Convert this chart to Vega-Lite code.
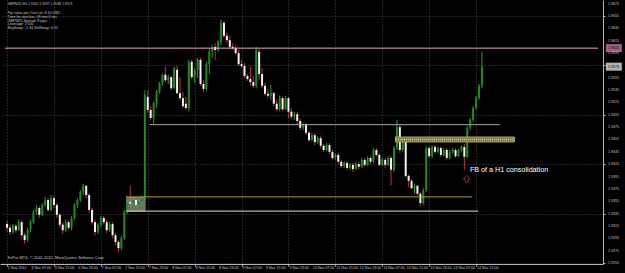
{
"$schema": "https://vega.github.io/schema/vega-lite/v6.json",
"width": 603, "height": 264,
"autosize": "none",
"padding": {"left": 0, "top": 0, "right": 22, "bottom": 9},
"background": "#000000",
"config": {"view": {"stroke": null}, "font": "Liberation Sans",
 "axis": {"title": null, "labels": false, "tickColor": "#b4b4b4", "domainColor": "#b4b4b4",
  "grid": true, "gridColor": "#474747", "gridDash": [1,2], "tickSize": 2}},
"datasets": {
"candles": [
{"t":0,"o":1.9318,"h":1.9323,"l":1.9305,"c":1.9312},
{"t":1,"o":1.9312,"h":1.9317,"l":1.9300,"c":1.9305},
{"t":2,"o":1.9305,"h":1.9318,"l":1.9302,"c":1.9315},
{"t":3,"o":1.9315,"h":1.9318,"l":1.9304,"c":1.9308},
{"t":4,"o":1.9308,"h":1.9326,"l":1.9307,"c":1.9321},
{"t":5,"o":1.9321,"h":1.9325,"l":1.9295,"c":1.9300},
{"t":6,"o":1.9300,"h":1.9304,"l":1.9286,"c":1.9292},
{"t":7,"o":1.9292,"h":1.9312,"l":1.9289,"c":1.9308},
{"t":8,"o":1.9308,"h":1.9325,"l":1.9305,"c":1.9321},
{"t":9,"o":1.9321,"h":1.9341,"l":1.9318,"c":1.9338},
{"t":10,"o":1.9338,"h":1.9349,"l":1.9334,"c":1.9344},
{"t":11,"o":1.9344,"h":1.9347,"l":1.9328,"c":1.9333},
{"t":12,"o":1.9333,"h":1.9352,"l":1.9331,"c":1.9349},
{"t":13,"o":1.9349,"h":1.9362,"l":1.9346,"c":1.9357},
{"t":14,"o":1.9357,"h":1.9360,"l":1.9338,"c":1.9341},
{"t":15,"o":1.9341,"h":1.9365,"l":1.9339,"c":1.9360},
{"t":16,"o":1.9360,"h":1.9364,"l":1.9344,"c":1.9349},
{"t":17,"o":1.9349,"h":1.9352,"l":1.9328,"c":1.9333},
{"t":18,"o":1.9333,"h":1.9336,"l":1.9312,"c":1.9317},
{"t":19,"o":1.9317,"h":1.9321,"l":1.9302,"c":1.9308},
{"t":20,"o":1.9308,"h":1.9325,"l":1.9305,"c":1.9321},
{"t":21,"o":1.9321,"h":1.9325,"l":1.9308,"c":1.9312},
{"t":22,"o":1.9312,"h":1.9331,"l":1.9308,"c":1.9328},
{"t":23,"o":1.9328,"h":1.9352,"l":1.9325,"c":1.9349},
{"t":24,"o":1.9349,"h":1.9360,"l":1.9344,"c":1.9357},
{"t":25,"o":1.9357,"h":1.9373,"l":1.9354,"c":1.9370},
{"t":26,"o":1.9370,"h":1.9383,"l":1.9365,"c":1.9380},
{"t":27,"o":1.9380,"h":1.9381,"l":1.9360,"c":1.9365},
{"t":28,"o":1.9365,"h":1.9368,"l":1.9336,"c":1.9341},
{"t":29,"o":1.9341,"h":1.9344,"l":1.9317,"c":1.9321},
{"t":30,"o":1.9321,"h":1.9325,"l":1.9299,"c":1.9305},
{"t":31,"o":1.9305,"h":1.9320,"l":1.9302,"c":1.9317},
{"t":32,"o":1.9317,"h":1.9331,"l":1.9313,"c":1.9328},
{"t":33,"o":1.9328,"h":1.9331,"l":1.9317,"c":1.9321},
{"t":34,"o":1.9321,"h":1.9325,"l":1.9304,"c":1.9308},
{"t":35,"o":1.9308,"h":1.9321,"l":1.9305,"c":1.9318},
{"t":36,"o":1.9318,"h":1.9321,"l":1.9295,"c":1.9300},
{"t":37,"o":1.9300,"h":1.9304,"l":1.9284,"c":1.9289},
{"t":38,"o":1.9289,"h":1.9292,"l":1.9273,"c":1.9279},
{"t":39,"o":1.9279,"h":1.9299,"l":1.9276,"c":1.9295},
{"t":40,"o":1.9295,"h":1.9341,"l":1.9292,"c":1.9338},
{"t":41,"o":1.9338,"h":1.9357,"l":1.9334,"c":1.9354},
{"t":42,"o":1.9354,"h":1.9380,"l":1.9347,"c":1.9351},
{"t":43,"o":1.9351,"h":1.9362,"l":1.9347,"c":1.9357},
{"t":44,"o":1.9357,"h":1.9360,"l":1.9344,"c":1.9349},
{"t":45,"o":1.9349,"h":1.9359,"l":1.9346,"c":1.9354},
{"t":46,"o":1.9354,"h":1.9364,"l":1.9351,"c":1.9360},
{"t":47,"o":1.9360,"h":1.9535,"l":1.9357,"c":1.9527},
{"t":48,"o":1.9524,"h":1.9535,"l":1.9498,"c":1.9503},
{"t":49,"o":1.9503,"h":1.9509,"l":1.9487,"c":1.9490},
{"t":50,"o":1.9490,"h":1.9516,"l":1.9480,"c":1.9514},
{"t":51,"o":1.9514,"h":1.9535,"l":1.9506,"c":1.9532},
{"t":52,"o":1.9532,"h":1.9548,"l":1.9529,"c":1.9547},
{"t":53,"o":1.9547,"h":1.9561,"l":1.9542,"c":1.9560},
{"t":54,"o":1.9560,"h":1.9573,"l":1.9548,"c":1.9551},
{"t":55,"o":1.9551,"h":1.9560,"l":1.9545,"c":1.9556},
{"t":56,"o":1.9556,"h":1.9558,"l":1.9535,"c":1.9538},
{"t":57,"o":1.9538,"h":1.9573,"l":1.9537,"c":1.9571},
{"t":58,"o":1.9568,"h":1.9574,"l":1.9529,"c":1.9530},
{"t":59,"o":1.9530,"h":1.9556,"l":1.9519,"c":1.9522},
{"t":60,"o":1.9522,"h":1.9532,"l":1.9506,"c":1.9509},
{"t":61,"o":1.9513,"h":1.9524,"l":1.9503,"c":1.9506},
{"t":62,"o":1.9506,"h":1.9584,"l":1.9501,"c":1.9581},
{"t":63,"o":1.9581,"h":1.9584,"l":1.9553,"c":1.9556},
{"t":64,"o":1.9556,"h":1.9571,"l":1.9547,"c":1.9568},
{"t":65,"o":1.9568,"h":1.9587,"l":1.9555,"c":1.9584},
{"t":66,"o":1.9584,"h":1.9587,"l":1.9542,"c":1.9545},
{"t":67,"o":1.9545,"h":1.9551,"l":1.9532,"c":1.9537},
{"t":68,"o":1.9537,"h":1.9581,"l":1.9534,"c":1.9577},
{"t":69,"o":1.9577,"h":1.9602,"l":1.9561,"c":1.9598},
{"t":70,"o":1.9598,"h":1.9608,"l":1.9587,"c":1.9605},
{"t":71,"o":1.9605,"h":1.9611,"l":1.9584,"c":1.9600},
{"t":72,"o":1.9600,"h":1.9616,"l":1.9597,"c":1.9613},
{"t":73,"o":1.9613,"h":1.9649,"l":1.9608,"c":1.9644},
{"t":74,"o":1.9644,"h":1.9647,"l":1.9619,"c":1.9623},
{"t":75,"o":1.9623,"h":1.9628,"l":1.9611,"c":1.9616},
{"t":76,"o":1.9616,"h":1.9623,"l":1.9602,"c":1.9605},
{"t":77,"o":1.9605,"h":1.9611,"l":1.9600,"c":1.9603},
{"t":78,"o":1.9603,"h":1.9608,"l":1.9592,"c":1.9595},
{"t":79,"o":1.9595,"h":1.9600,"l":1.9574,"c":1.9577},
{"t":80,"o":1.9577,"h":1.9584,"l":1.9571,"c":1.9574},
{"t":81,"o":1.9574,"h":1.9579,"l":1.9555,"c":1.9558},
{"t":82,"o":1.9558,"h":1.9561,"l":1.9550,"c":1.9553},
{"t":83,"o":1.9553,"h":1.9573,"l":1.9542,"c":1.9548},
{"t":84,"o":1.9548,"h":1.9558,"l":1.9538,"c":1.9542},
{"t":85,"o":1.9542,"h":1.9605,"l":1.9538,"c":1.9600},
{"t":86,"o":1.9597,"h":1.9602,"l":1.9551,"c":1.9561},
{"t":87,"o":1.9561,"h":1.9571,"l":1.9538,"c":1.9542},
{"t":88,"o":1.9542,"h":1.9547,"l":1.9526,"c":1.9529},
{"t":89,"o":1.9529,"h":1.9537,"l":1.9522,"c":1.9526},
{"t":90,"o":1.9526,"h":1.9543,"l":1.9519,"c":1.9530},
{"t":91,"o":1.9530,"h":1.9532,"l":1.9509,"c":1.9513},
{"t":92,"o":1.9513,"h":1.9519,"l":1.9501,"c":1.9504},
{"t":93,"o":1.9504,"h":1.9526,"l":1.9501,"c":1.9522},
{"t":94,"o":1.9522,"h":1.9524,"l":1.9501,"c":1.9504},
{"t":95,"o":1.9504,"h":1.9526,"l":1.9503,"c":1.9522},
{"t":96,"o":1.9522,"h":1.9524,"l":1.9490,"c":1.9500},
{"t":97,"o":1.9500,"h":1.9506,"l":1.9488,"c":1.9492},
{"t":98,"o":1.9492,"h":1.9500,"l":1.9487,"c":1.9496},
{"t":99,"o":1.9496,"h":1.9500,"l":1.9480,"c":1.9485},
{"t":100,"o":1.9485,"h":1.9488,"l":1.9470,"c":1.9474},
{"t":101,"o":1.9474,"h":1.9482,"l":1.9470,"c":1.9479},
{"t":102,"o":1.9479,"h":1.9482,"l":1.9462,"c":1.9466},
{"t":103,"o":1.9466,"h":1.9469,"l":1.9451,"c":1.9454},
{"t":104,"o":1.9454,"h":1.9466,"l":1.9453,"c":1.9462},
{"t":105,"o":1.9462,"h":1.9466,"l":1.9446,"c":1.9451},
{"t":106,"o":1.9451,"h":1.9461,"l":1.9448,"c":1.9457},
{"t":107,"o":1.9457,"h":1.9461,"l":1.9441,"c":1.9445},
{"t":108,"o":1.9445,"h":1.9448,"l":1.9435,"c":1.9438},
{"t":109,"o":1.9438,"h":1.9449,"l":1.9436,"c":1.9446},
{"t":110,"o":1.9446,"h":1.9449,"l":1.9432,"c":1.9435},
{"t":111,"o":1.9435,"h":1.9438,"l":1.9422,"c":1.9425},
{"t":112,"o":1.9425,"h":1.9433,"l":1.9422,"c":1.9430},
{"t":113,"o":1.9430,"h":1.9433,"l":1.9415,"c":1.9419},
{"t":114,"o":1.9419,"h":1.9422,"l":1.9409,"c":1.9412},
{"t":115,"o":1.9412,"h":1.9420,"l":1.9409,"c":1.9417},
{"t":116,"o":1.9417,"h":1.9420,"l":1.9406,"c":1.9409},
{"t":117,"o":1.9409,"h":1.9417,"l":1.9406,"c":1.9414},
{"t":118,"o":1.9414,"h":1.9417,"l":1.9402,"c":1.9407},
{"t":119,"o":1.9407,"h":1.9419,"l":1.9406,"c":1.9415},
{"t":120,"o":1.9415,"h":1.9419,"l":1.9407,"c":1.9411},
{"t":121,"o":1.9411,"h":1.9425,"l":1.9409,"c":1.9422},
{"t":122,"o":1.9422,"h":1.9425,"l":1.9411,"c":1.9414},
{"t":123,"o":1.9414,"h":1.9428,"l":1.9412,"c":1.9425},
{"t":124,"o":1.9425,"h":1.9428,"l":1.9415,"c":1.9419},
{"t":125,"o":1.9419,"h":1.9441,"l":1.9417,"c":1.9438},
{"t":126,"o":1.9438,"h":1.9441,"l":1.9427,"c":1.9430},
{"t":127,"o":1.9430,"h":1.9433,"l":1.9412,"c":1.9414},
{"t":128,"o":1.9414,"h":1.9425,"l":1.9412,"c":1.9422},
{"t":129,"o":1.9422,"h":1.9425,"l":1.9409,"c":1.9414},
{"t":130,"o":1.9414,"h":1.9428,"l":1.9412,"c":1.9425},
{"t":131,"o":1.9425,"h":1.9428,"l":1.9381,"c":1.9406},
{"t":132,"o":1.9406,"h":1.9444,"l":1.9402,"c":1.9441},
{"t":133,"o":1.9441,"h":1.9487,"l":1.9438,"c":1.9475},
{"t":134,"o":1.9475,"h":1.9480,"l":1.9433,"c":1.9438},
{"t":135,"o":1.9438,"h":1.9457,"l":1.9435,"c":1.9454},
{"t":136,"o":1.9454,"h":1.9457,"l":1.9393,"c":1.9396},
{"t":137,"o":1.9396,"h":1.9398,"l":1.9378,"c":1.9388},
{"t":138,"o":1.9388,"h":1.9391,"l":1.9375,"c":1.9376},
{"t":139,"o":1.9376,"h":1.9383,"l":1.9367,"c":1.9380},
{"t":140,"o":1.9380,"h":1.9381,"l":1.9364,"c":1.9367},
{"t":141,"o":1.9367,"h":1.9370,"l":1.9347,"c":1.9352},
{"t":142,"o":1.9352,"h":1.9376,"l":1.9349,"c":1.9373},
{"t":143,"o":1.9373,"h":1.9444,"l":1.9370,"c":1.9441},
{"t":144,"o":1.9441,"h":1.9444,"l":1.9425,"c":1.9428},
{"t":145,"o":1.9428,"h":1.9446,"l":1.9425,"c":1.9443},
{"t":146,"o":1.9443,"h":1.9446,"l":1.9432,"c":1.9435},
{"t":147,"o":1.9435,"h":1.9444,"l":1.9433,"c":1.9441},
{"t":148,"o":1.9441,"h":1.9444,"l":1.9427,"c":1.9430},
{"t":149,"o":1.9430,"h":1.9441,"l":1.9428,"c":1.9438},
{"t":150,"o":1.9438,"h":1.9441,"l":1.9422,"c":1.9425},
{"t":151,"o":1.9425,"h":1.9438,"l":1.9423,"c":1.9435},
{"t":152,"o":1.9435,"h":1.9441,"l":1.9432,"c":1.9438},
{"t":153,"o":1.9438,"h":1.9441,"l":1.9425,"c":1.9428},
{"t":154,"o":1.9428,"h":1.9440,"l":1.9427,"c":1.9438},
{"t":155,"o":1.9438,"h":1.9446,"l":1.9435,"c":1.9443},
{"t":156,"o":1.9443,"h":1.9448,"l":1.9406,"c":1.9427},
{"t":157,"o":1.9427,"h":1.9477,"l":1.9425,"c":1.9474},
{"t":158,"o":1.9474,"h":1.9490,"l":1.9470,"c":1.9487},
{"t":159,"o":1.9487,"h":1.9509,"l":1.9483,"c":1.9506},
{"t":160,"o":1.9506,"h":1.9526,"l":1.9503,"c":1.9522},
{"t":161,"o":1.9522,"h":1.9545,"l":1.9519,"c":1.9542},
{"t":162,"o":1.9542,"h":1.9597,"l":1.9538,"c":1.9573}
],
"levels": [
{"k":"pinkline","p":1.9603,"a":-0.7,"b":201.6},
{"k":"gray","p":1.9479,"a":48.6,"b":168.1},
{"k":"gold","p":1.9362,"a":40.6,"b":158.7},
{"k":"cream","p":1.9339,"a":40.6,"b":160.7}
],
"tags": [
{"k":"pinktag","p":1.9603,"txt":"1.9603"},
{"k":"white","p":1.9573,"txt":"1.9573"}
],
"timelabels": [
{"t":0,"s":"5 Nov 2012"},{"t":8,"s":"6 Nov 07:00"},{"t":16,"s":"6 Nov 15:00"},{"t":24,"s":"6 Nov 23:00"},
{"t":32,"s":"7 Nov 07:00"},{"t":40,"s":"7 Nov 15:00"},{"t":48,"s":"7 Nov 23:00"},{"t":56,"s":"8 Nov 07:00"},
{"t":64,"s":"8 Nov 15:00"},{"t":72,"s":"8 Nov 23:00"},{"t":80,"s":"9 Nov 07:00"},{"t":88,"s":"9 Nov 15:00"},
{"t":96,"s":"9 Nov 23:00"},{"t":104,"s":"12 Nov 07:00"},{"t":112,"s":"12 Nov 15:00"},{"t":120,"s":"12 Nov 23:00"},
{"t":128,"s":"13 Nov 07:00"},{"t":136,"s":"13 Nov 15:00"},{"t":144,"s":"13 Nov 23:00"},{"t":152,"s":"14 Nov 07:00"},
{"t":160,"s":"14 Nov 15:00"}
],
"pricelabels": [
{"v":1.9255},{"v":1.9275},{"v":1.9295},{"v":1.9315},{"v":1.9335},{"v":1.9355},{"v":1.9375},{"v":1.9395},
{"v":1.9415},{"v":1.9435},{"v":1.9455},{"v":1.9475},{"v":1.9495},{"v":1.9515},{"v":1.9535},{"v":1.9555},
{"v":1.9595},{"v":1.9615},{"v":1.9635},{"v":1.9655},{"v":1.9675}
]
},
"layer": [
{
"data": {"name":"candles"},
"mark": {"type":"rule","strokeWidth":1},
"encoding": {
"x": {"field":"t","type":"quantitative","scale":{"domain":[-0.7,201.6],"nice":false,"zero":false},
 "axis":{"orient":"bottom","labels":false,"values":[0,8,16,24,32,40,48,56,64,72,80,88,96,104,112,120,128,136,144,152,160]}},
"y": {"field":"l","type":"quantitative","scale":{"domain":[1.92533,1.9681],"nice":false,"zero":false},
 "axis":{"orient":"right","labels":false,"values":[1.9255,1.9275,1.9295,1.9315,1.9335,1.9355,1.9375,1.9395,1.9415,1.9435,1.9455,1.9475,1.9495,1.9515,1.9535,1.9555,1.9575,1.9595,1.9615,1.9635,1.9655,1.9675]}},
"y2": {"field":"h"},
"color": {"condition":{"test":"datum.c >= datum.o","value":"#2b9a2b"},"value":"#b83838"}
}
},
{
"data": {"values": [{"a":40.6,"b":47.3,"top":1.9362,"bot":1.9338}]},
"mark": {"type":"rect","color":"#7e917c","opacity":0.8},
"encoding": {
"x": {"field":"a","type":"quantitative"},
"x2": {"field":"b"},
"y": {"field":"top","type":"quantitative"},
"y2": {"field":"bot"}
}
},
{
"data": {"name":"candles"},
"mark": {"type":"bar","size":2},
"encoding": {
"x": {"field":"t","type":"quantitative"},
"y": {"field":"o","type":"quantitative"},
"y2": {"field":"c"},
"color": {"condition":{"test":"datum.c >= datum.o","value":"#1f8a1f"},"value":"#f2f2f2"}
}
},
{
"data": {"name":"levels"},
"mark": {"type":"rule","strokeWidth":1},
"encoding": {
"x": {"field":"a","type":"quantitative"},
"x2": {"field":"b"},
"y": {"field":"p","type":"quantitative"},
"color": {"field":"k","type":"nominal","legend":null,
 "scale":{"domain":["pinkline","gray","gold","cream","pinktag","white"],"range":["#e8a6c6","#a8a8a8","#b89a38","#eadcaa","#e887be","#ffffff"]}}
}
},
{
"data": {"values": [{"a":132.5,"b":173.1,"top":1.9459,"bot":1.9451}]},
"mark": {"type":"rect","color":"#6e6a34","stroke":"#b2aa6a","strokeWidth":1},
"encoding": {
"x": {"field":"a","type":"quantitative"},
"x2": {"field":"b"},
"y": {"field":"top","type":"quantitative"},
"y2": {"field":"bot"}
}
},
{
"data": {"values": [{"a":132.8,"b":172.8,"p":1.9455}]},
"mark": {"type":"rule","color":"#e2da98","strokeWidth":2,"strokeDash":[1,1]},
"encoding": {
"x": {"field":"a","type":"quantitative"},
"x2": {"field":"b"},
"y": {"field":"p","type":"quantitative"}
}
},
{
"data": {"values": [{"s":"FB of a H1 consolidation","t":157.9,"p":1.9406}]},
"mark": {"type":"text","align":"left","baseline":"middle","fontSize":7.2,"color":"#ffffff"},
"encoding": {
"x": {"field":"t","type":"quantitative"},
"y": {"field":"p","type":"quantitative"},
"text": {"field":"s"}
}
},
{
"data": {"values": [{"t":156.8,"p":1.9391}]},
"mark": {"type":"point","shape":"M0,-1L0.9,0L0.4,0L0.4,0.9L-0.4,0.9L-0.4,0L-0.9,0Z","filled":false,"stroke":"#e03030","strokeWidth":1,"size":55},
"encoding": {
"x": {"field":"t","type":"quantitative"},
"y": {"field":"p","type":"quantitative"}
}
},
{
"data": {"values": [{"s":"GBPNZD,H1  1.9542 1.9597 1.9538 1.9573","t":0.2,"p":1.9678}]},
"mark": {"type":"text","align":"left","baseline":"top","fontSize":3.4,"color":"#c8c8c8"},
"encoding": {
"x": {"field":"t","type":"quantitative"},
"y": {"field":"p","type":"quantitative"},
"text": {"field":"s"}
}
},
{
"data": {"values": [{"s":["Pip value per One Lot: 8.10 USD","Time for next bar: 09 min 6 sec","GBPNZD Spread: 8 pips","Leverage: 1:500","BuySwap: -1.34  SellSwap: 0.91"],"t":0.2,"p":1.96625}]},
"mark": {"type":"text","align":"left","baseline":"top","fontSize":3.6,"lineHeight":3.6,"color":"#c8c8c8"},
"encoding": {
"x": {"field":"t","type":"quantitative"},
"y": {"field":"p","type":"quantitative"},
"text": {"field":"s"}
}
},
{
"data": {"values": [{"s":"FxPro MT4, \u00a9 2001-2012, MetaQuotes Software Corp.","t":0.2,"p":1.9267}]},
"mark": {"type":"text","align":"left","baseline":"top","fontSize":4,"color":"#c8c8c8"},
"encoding": {
"x": {"field":"t","type":"quantitative"},
"y": {"field":"p","type":"quantitative"},
"text": {"field":"s"}
}
},
{
"data": {"name":"timelabels"},
"mark": {"type":"text","align":"left","baseline":"top","fontSize":3.6,"color":"#c8c8c8","dx":1},
"encoding": {
"x": {"field":"t","type":"quantitative"},
"y": {"datum":1.92505,"type":"quantitative"},
"text": {"field":"s"}
}
},
{
"data": {"name":"pricelabels"},
"mark": {"type":"text","align":"left","baseline":"middle","fontSize":3.6,"color":"#c8c8c8"},
"encoding": {
"x": {"datum":205,"type":"quantitative"},
"y": {"field":"v","type":"quantitative"},
"text": {"field":"v","type":"quantitative","format":".4f"}
}
},
{
"data": {"name":"tags"},
"mark": {"type":"tick","orient":"horizontal","size":16,"thickness":8},
"encoding": {
"x": {"datum":207,"type":"quantitative"},
"y": {"field":"p","type":"quantitative"},
"color": {"field":"k","type":"nominal","legend":null,
 "scale":{"domain":["pinkline","gray","gold","cream","pinktag","white"],"range":["#e8a6c6","#a8a8a8","#b89a38","#eadcaa","#e887be","#ffffff"]}}
}
},
{
"data": {"name":"tags"},
"mark": {"type":"text","align":"left","baseline":"middle","fontSize":3.6,"color":"#000000"},
"encoding": {
"x": {"datum":205,"type":"quantitative"},
"y": {"field":"p","type":"quantitative"},
"text": {"field":"txt"}
}
}
]
}
